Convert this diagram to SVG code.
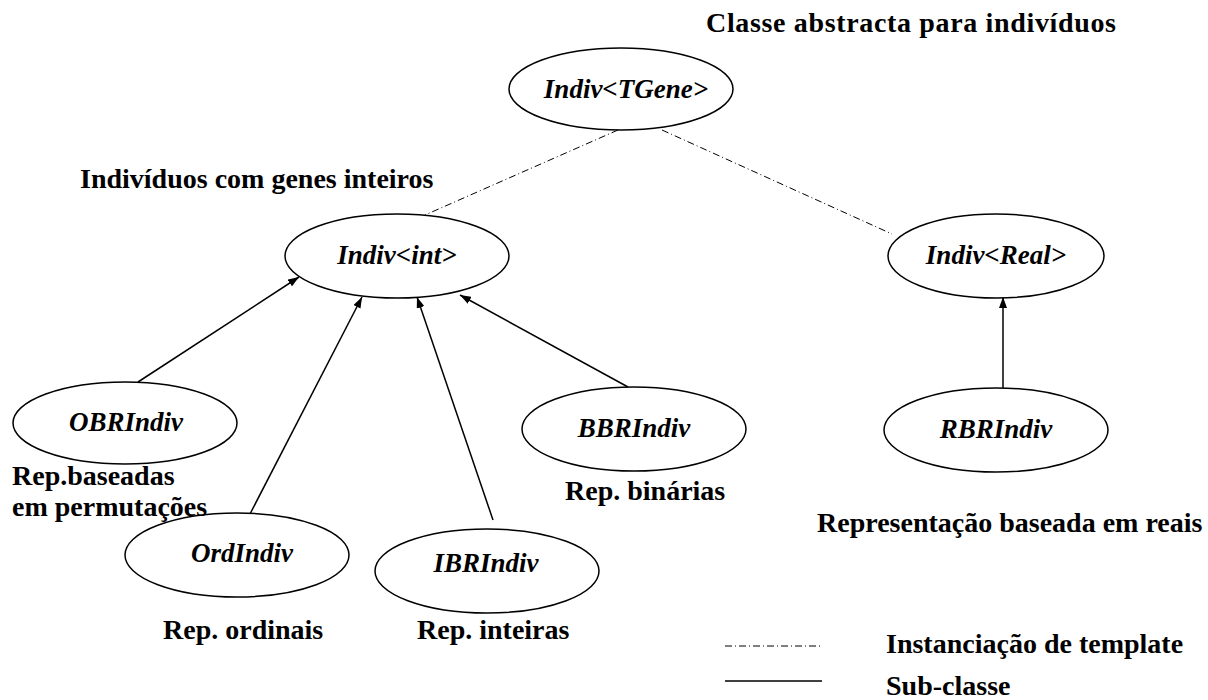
<svg xmlns="http://www.w3.org/2000/svg" width="1208" height="700" viewBox="0 0 1208 700">
<defs>
<marker id="arr" markerUnits="userSpaceOnUse" markerWidth="12" markerHeight="8" refX="11" refY="4" orient="auto">
<path d="M0,0 L11,4 L0,8 Z" fill="#000"/>
</marker>
<style>
.node ellipse{fill:#fff;stroke:#000;stroke-width:1.5}
.nt{font-weight:bold;font-style:italic;font-size:27px;text-anchor:middle;fill:#000}
.lbl{font-weight:bold;font-size:28px;fill:#000}
.inst{stroke:#000;stroke-width:1;stroke-dasharray:7 3 1 3;fill:none}
.sub{stroke:#000;stroke-width:1.5;fill:none}
</style>
</defs>
<rect width="1208" height="700" fill="#fff"/>
<g id="connectors">
<line class="inst" x1="618" y1="130" x2="425" y2="215"/>
<line class="inst" x1="662" y1="130" x2="892" y2="234"/>
<line class="sub" x1="138" y1="382" x2="299" y2="277" marker-end="url(#arr)"/>
<line class="sub" x1="250" y1="514" x2="362" y2="297" marker-end="url(#arr)"/>
<line class="sub" x1="493" y1="520" x2="417" y2="297" marker-end="url(#arr)"/>
<line class="sub" x1="628" y1="387" x2="460" y2="295" marker-end="url(#arr)"/>
<line class="sub" x1="1003" y1="388" x2="1003" y2="297" marker-end="url(#arr)"/>
</g>
<g font-family="'Liberation Serif', 'Times New Roman', Times, 'DejaVu Serif', serif">
<g id="n-tgene" class="node"><ellipse cx="621" cy="89" rx="112" ry="41"/><text class="nt" x="626" y="98">Indiv&lt;TGene&gt;</text></g>
<g id="n-int" class="node"><ellipse cx="397" cy="256" rx="112" ry="42"/><text class="nt" x="397" y="264">Indiv&lt;int&gt;</text></g>
<g id="n-real" class="node"><ellipse cx="996" cy="256" rx="108" ry="42"/><text class="nt" x="996" y="264">Indiv&lt;Real&gt;</text></g>
<g id="n-obr" class="node"><ellipse cx="125" cy="423" rx="112" ry="41"/><text class="nt" x="126" y="431">OBRIndiv</text></g>
<g id="n-bbr" class="node"><ellipse cx="634" cy="429" rx="112" ry="42"/><text class="nt" x="634" y="437">BBRIndiv</text></g>
<g id="n-rbr" class="node"><ellipse cx="996" cy="430" rx="112" ry="42"/><text class="nt" x="996" y="438">RBRIndiv</text></g>
<g id="n-ord" class="node"><ellipse cx="237" cy="555" rx="112" ry="42"/><text class="nt" x="242" y="562">OrdIndiv</text></g>
<g id="n-ibr" class="node"><ellipse cx="487" cy="571" rx="112" ry="42"/><text class="nt" x="486" y="572">IBRIndiv</text></g>
<g id="labels">
<text class="lbl" x="706" y="32" textLength="410" lengthAdjust="spacing">Classe abstracta para indivíduos</text>
<text class="lbl" x="80" y="188">Indivíduos com genes inteiros</text>
<text class="lbl" x="12" y="485">Rep.baseadas</text>
<text class="lbl" x="12" y="516">em permutações</text>
<text class="lbl" x="565" y="500">Rep. binárias</text>
<text class="lbl" x="817" y="532">Representação baseada em reais</text>
<text class="lbl" x="163" y="639">Rep. ordinais</text>
<text class="lbl" x="417" y="639">Rep. inteiras</text>
<text class="lbl" x="886" y="653">Instanciação de template</text>
<text class="lbl" x="886" y="695">Sub-classe</text>
</g>
</g>
<g id="legend">
<line class="inst" x1="725" y1="646" x2="822" y2="646"/>
<line class="sub" x1="725" y1="681" x2="822" y2="681"/>
</g>
</svg>
